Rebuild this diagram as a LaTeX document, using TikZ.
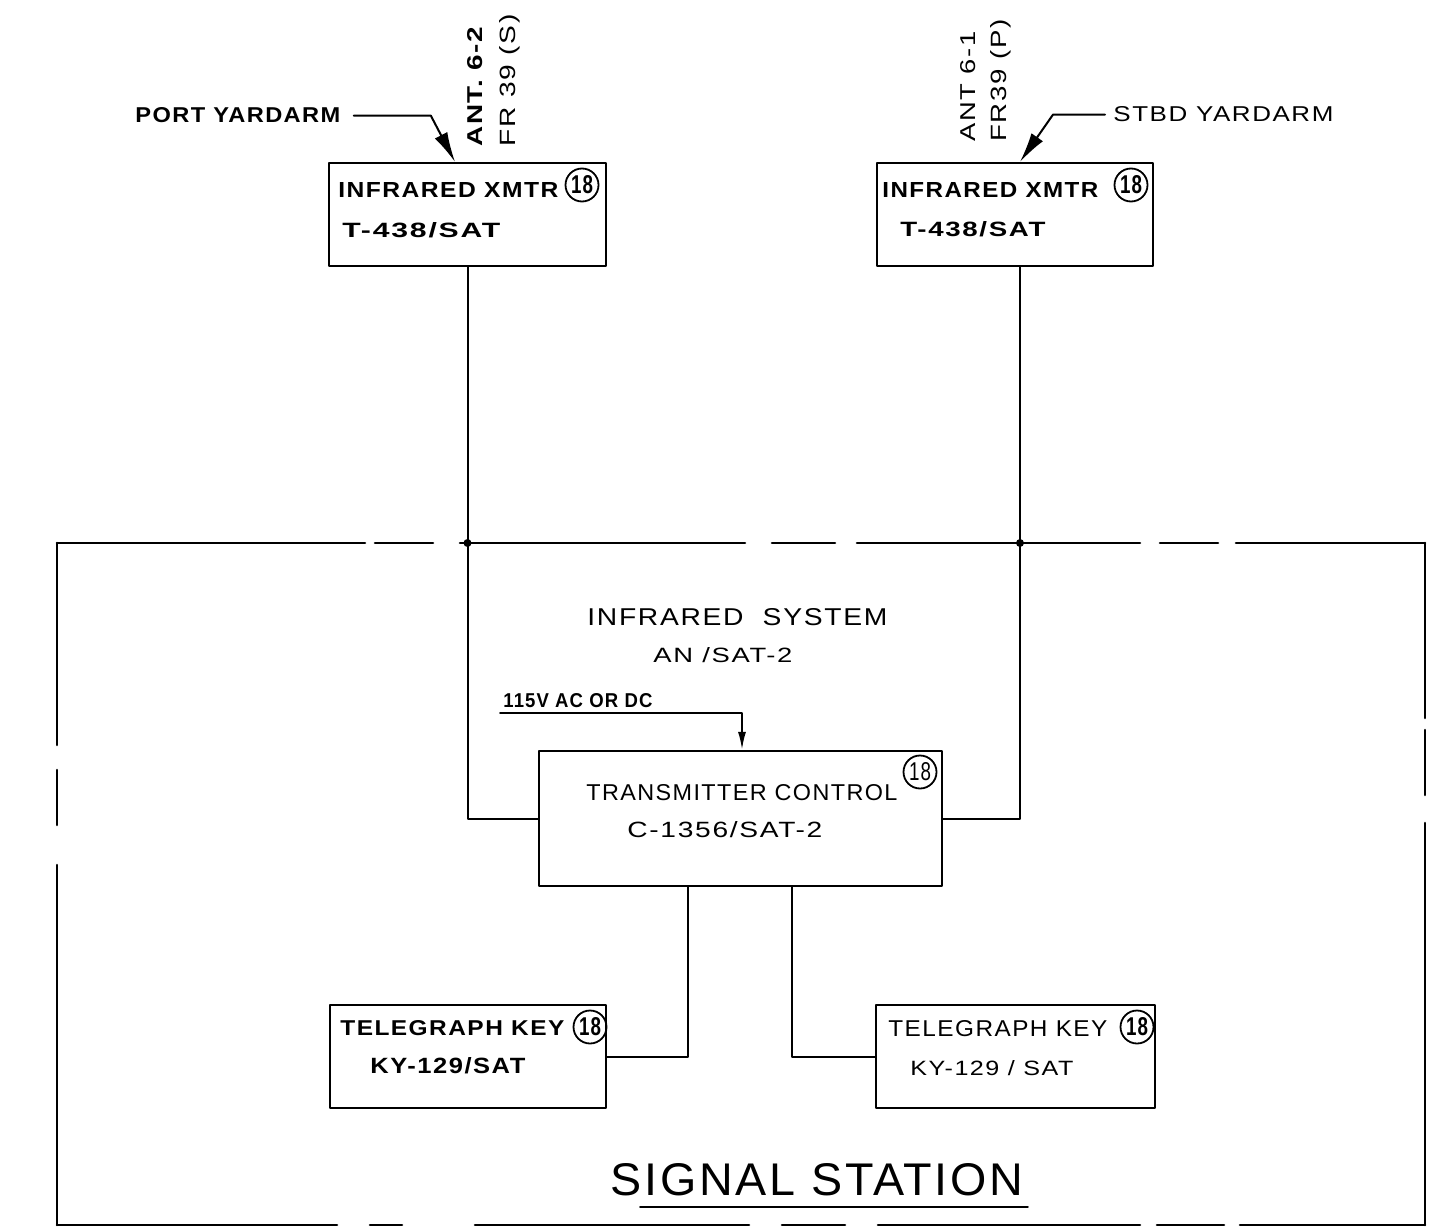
\documentclass[tikz,border=0pt]{standalone}
\usepackage{fontspec}
\usepackage{graphicx}
\newfontfamily\hand[LetterSpace=6]{Liberation Sans}
\usetikzlibrary{arrows.meta,calc}
\newcommand\ft[3]{\resizebox{#1pt}{#2pt}{\hand #3}}
\newcommand\fb[3]{\resizebox{#1pt}{#2pt}{\hand\bfseries #3}}
\begin{document}
\begin{tikzpicture}[x=0.5pt,y=-0.5pt,
  line cap=round, line join=round,
  unit/.style={draw, line width=1.1pt, inner sep=0pt},
  lbl/.style={inner sep=0pt, anchor=base west},
  num/.style={draw, circle, line width=0.9pt, minimum size=16.5pt, inner sep=0pt},
  wire/.style={line width=1pt},
  border/.style={line width=1.3pt},
  bigtip/.style={-{Latex[length=15pt,width=7pt]}},
  smalltip/.style={-{Latex[length=9pt,width=4pt]}},
  ]
\useasboundingbox (0,0) rectangle (1440,1230);

% ---- units ----
\node[unit, minimum width=138.5pt, minimum height=51.5pt] (xl) at (467.5,214.5) {};
\node[unit, minimum width=138pt,   minimum height=51.5pt] (xr) at (1015,214.5) {};
\node[unit, minimum width=201.5pt, minimum height=67.5pt] (tc) at (740.5,818.5) {};
\node[unit, minimum width=138pt,   minimum height=51.5pt] (kl) at (468,1056.5) {};
\node[unit, minimum width=139.5pt, minimum height=51.5pt] (kr) at (1015.5,1056.5) {};

% ---- labels inside units ----
\node[lbl] (ixl) at (338,198) {\fb{110}{7.5}{INFRARED XMTR}};
\node[lbl] (txl) at (342,238) {\fb{79}{7.5}{T-438/SAT}};
\node[num] (cxl) at (582,185) {\fb{11}{9}{18}};

\node[lbl] (ixr) at (882,198) {\fb{108}{7.5}{INFRARED XMTR}};
\node[lbl] (txr) at (900,237) {\fb{72.5}{7.5}{T-438/SAT}};
\node[num] (cxr) at (1131,185) {\fb{11}{9}{18}};

\node[lbl] (tcl) at (586,800) {\ft{155.5}{8}{TRANSMITTER CONTROL}};
\node[lbl] (tcm) at (627,837) {\ft{97.5}{8}{C-1356/SAT-2}};
\node[num] (ctc) at (920,772) {\ft{11}{9}{18}};

\node[lbl] (kl1) at (340,1035) {\fb{112}{7.5}{TELEGRAPH KEY}};
\node[lbl] (kl2) at (370,1073) {\fb{77.5}{8}{KY-129/SAT}};
\node[num] (ckl) at (590,1027) {\fb{11}{9}{18}};

\node[lbl] (kr1) at (888,1036) {\ft{109.5}{8}{TELEGRAPH KEY}};
\node[lbl] (kr2) at (910,1075) {\ft{81.5}{7.5}{KY-129 / SAT}};
\node[num] (ckr) at (1137,1027) {\fb{11}{9}{18}};

% ---- free labels ----
\node[lbl] (pyd) at (135,123) {\fb{102.5}{7.5}{PORT YARDARM}};
\node[lbl] (sbd) at (1113,122) {\ft{110}{7.5}{STBD YARDARM}};
\node[lbl, rotate=90] (ant2) at (482,147) {\fb{60}{7.5}{ANT. 6-2}};
\node[lbl, rotate=90] (fr2)  at (515,147) {\ft{66}{8}{FR 39 (S)}};
\node[lbl, rotate=90] (ant1) at (975,142) {\ft{55}{7.5}{ANT 6-1}};
\node[lbl, rotate=90] (fr1)  at (1006,142) {\ft{61}{8}{FR39 (P)}};

\node[lbl] (sys) at (587,625) {\ft{150}{8.5}{INFRARED\ \ SYSTEM}};
\node[lbl] (ans) at (653,662) {\ft{69.5}{7.5}{AN /SAT-2}};
\node[lbl] (pwr) at (503,707) {\fb{74.5}{7}{115V AC OR DC}};
\node[lbl] (sig) at (610,1195) {\ft{206.5}{16}{SIGNAL STATION}};

% ---- connectors ----
\draw[wire] (xl.south) |- (tc.west);
\draw[wire] ([xshift=2.5pt]xr.south) |- (tc.east);
\draw[wire] ([xshift=-26.25pt]tc.south) |- (kl.east);
\draw[wire] ([xshift=25.75pt]tc.south) |- (kr.west);
\coordinate (pw) at (500,713);
\draw[wire, smalltip] (pw) -| ([xshift=0.75pt]tc.north);

\draw[wire, bigtip] ([xshift=6.5pt]pyd.east) -- ++(77,0) -- ([xshift=-6.25pt]xl.north);
\draw[wire, bigtip] ([xshift=-4pt]sbd.west) -- ++(-52,0) -- ([xshift=2.5pt]xr.north);

% junction dots on the station boundary
\fill (467.5,543) circle (2pt);
\fill (1020,543) circle (2pt);

% ---- signal station boundary (dashed by hand) ----
\foreach \a/\b in {57/365,375/433,460/745,772/835,857/1140,1160/1218,1236/1425}
  \draw[border] (\a,543) -- (\b,543);
\foreach \a/\b in {57/337,370/402,475/749,782/845,878/1140,1157/1224,1240/1425}
  \draw[border] (\a,1225) -- (\b,1225);
\foreach \a/\b in {543/745,770/825,865/1225}
  \draw[border] (57,\a) -- (57,\b);
\foreach \a/\b in {543/718,730/795,823/1225}
  \draw[border] (1425,\a) -- (1425,\b);

% underline of SIGNAL STATION
\draw[wire, line width=0.9pt] ($(sig.base west)+(30,12)$) -- ($(sig.base east)+(4,12)$);
\end{tikzpicture}
\end{document}
